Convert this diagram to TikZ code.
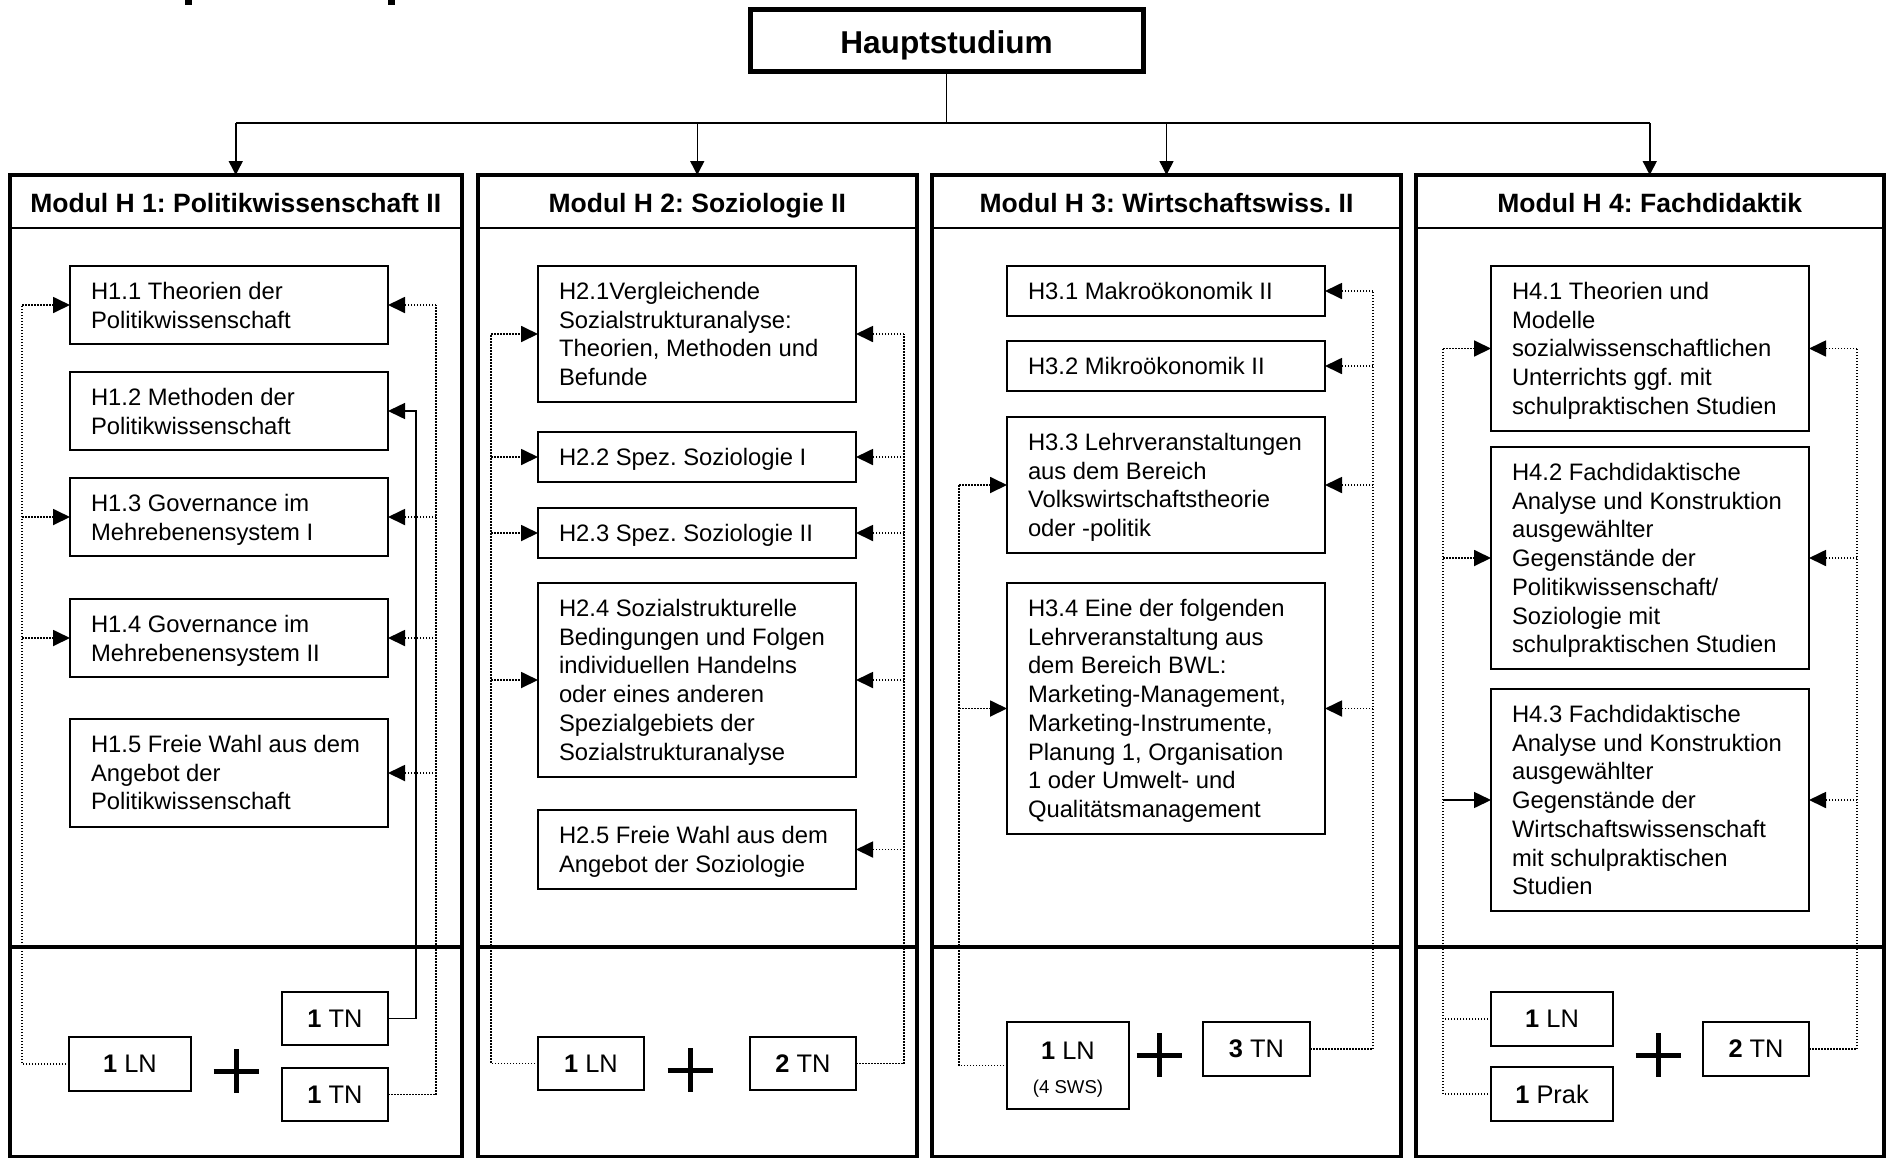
\documentclass[tikz,border=0pt]{standalone}
\usepackage{fontspec}
\setmainfont{Liberation Sans}
\usetikzlibrary{arrows.meta,calc}
\frenchspacing
\newcommand\txtlines[1]{\begin{tabular}[t]{@{}l@{}}#1\end{tabular}}
\tikzset{
  ibox/.style={draw, line width=1pt, rectangle, inner sep=0pt, outer sep=0pt},
  itext/.style={inner sep=0pt, outer sep=0pt, font=\fontsize{11.9}{14.35}\selectfont},
  nbox/.style={draw, line width=1pt, inner sep=0pt, outer sep=0pt, font=\fontsize{12.7}{15}\selectfont},
  nfont/.style={inner sep=0pt, outer sep=0pt, font=\fontsize{12.7}{15}\selectfont},
  smallfont/.style={inner sep=0pt, outer sep=0pt, font=\fontsize{9.3}{11}\selectfont},
  modbox/.style={draw, line width=2pt, inner sep=0pt, outer sep=0pt},
  modtitle/.style={font=\bfseries\fontsize{13.25}{16}\selectfont, inner sep=0pt, outer sep=0pt},
  hbox/.style={draw, line width=2.5pt, inner sep=0pt, outer sep=0pt},
  htext/.style={font=\bfseries\fontsize{15.8}{19}\selectfont, inner sep=0pt, outer sep=0pt},
  dotline/.style={line width=0.9pt, dash pattern=on 0.75pt off 0.75pt},
  solline/.style={line width=0.75pt},
  tip/.style={-{Triangle[length=8.5pt,width=8pt]}},
  toptip/.style={-{Triangle[length=7pt,width=7pt]}},
  plusmark/.style={line width=2.5pt},
}
\newcommand\ibx[6]{%
  \pgfmathsetmacro\bxw{(#4-#2)*0.5}%
  \pgfmathsetmacro\bxh{(#5-#3)*0.5}%
  \node[ibox, minimum width=\bxw pt, minimum height=\bxh pt, anchor=north west] (#1) at (#2,#3) {};
  \node[itext, anchor=base west] (#1t) at ({#2+21},{#3+33.5}) {\txtlines{#6}};}
\newcommand\nbx[6]{%
  \pgfmathsetmacro\bxw{(#4-#2)*0.5}%
  \pgfmathsetmacro\bxh{(#5-#3)*0.5}%
  \node[nbox, minimum width=\bxw pt, minimum height=\bxh pt] (#1) at ({(#2+#4)/2},{(#3+#5)/2}) {#6};}
\newcommand\modul[4]{%
  \pgfmathsetmacro\bxw{(#3-#2)*0.5}%
  \node[modbox, minimum width=\bxw pt, minimum height=491pt, anchor=north west] (#1) at (#2,175) {};
  \draw[line width=1.25pt] (#2,228) -- (#3,228);
  \draw[line width=2pt] (#2,946.5) -- (#3,946.5);
  \node[modtitle, anchor=base] (#1t) at ({(#2+#3)/2},212) {#4};}
\newcommand\plusat[2]{%
  \draw[plusmark] ({#1-22.5},#2) -- ({#1+22.5},#2) (#1,{#2-22}) -- (#1,{#2+22});}
\begin{document}
\frenchspacing
\begin{tikzpicture}[x=0.5pt,y=-0.5pt]
\useasboundingbox (0,0) rectangle (1889,1157);
\fill[white] (0,0) rectangle (1889,1157);
% cut-off marks at top
\fill[black] (185,0) rectangle (192,4.5);
\fill[black] (388,0) rectangle (395,4.5);

% top box
\node[hbox, minimum width=196.5pt, minimum height=31pt] (haupt) at (946.5,40) {};
\node[htext, anchor=base] (hauptt) at (946.5,53) {Hauptstudium};

% modules
\modul{m1}{9.5}{462}{Modul H 1: Politikwissenschaft II}
\modul{m2}{477.5}{917}{Modul H 2: Soziologie II}
\modul{m3}{932}{1401}{Modul H 3: Wirtschaftswiss. II}
\modul{m4}{1415.5}{1884}{Modul H 4: Fachdidaktik}

\coordinate (bus) at (946.5,123);
\draw[solline] (haupt.south) -- (bus);
\draw[solline] (m1.north |- bus) -- (m4.north |- bus);
\foreach \m in {m1,m2,m3,m4} \draw[solline, toptip] (\m.north |- bus) -- (\m.north);

% column 1
\ibx{h11}{70}{266}{388}{344}{H1.1 Theorien der\\Politikwissenschaft}
\ibx{h12}{70}{372}{388}{450}{H1.2 Methoden der\\Politikwissenschaft}
\ibx{h13}{70}{478}{388}{556}{H1.3 Governance im\\Mehrebenensystem I}
\ibx{h14}{70}{599}{388}{677}{H1.4 Governance im\\Mehrebenensystem II}
\ibx{h15}{70}{719}{388}{827}{H1.5 Freie Wahl aus dem\\Angebot der\\Politikwissenschaft}
\nbx{ln1}{69}{1037}{191}{1091}{\textbf{1} LN}
\nbx{tn1a}{282}{992}{388}{1045}{\textbf{1} TN}
\nbx{tn1b}{282}{1068}{388}{1121}{\textbf{1} TN}
\plusat{236}{1071}

% column 2
\ibx{h21}{538}{266}{856}{402}{H2.1Vergleichende\\Sozialstrukturanalyse:\\Theorien, Methoden und\\Befunde}
\ibx{h22}{538}{432}{856}{482}{H2.2 Spez. Soziologie I}
\ibx{h23}{538}{508}{856}{558}{H2.3 Spez. Soziologie II}
\ibx{h24}{538}{583}{856}{777}{H2.4 Sozialstrukturelle\\Bedingungen und Folgen\\individuellen Handelns\\oder eines anderen\\Spezialgebiets der\\Sozialstrukturanalyse}
\ibx{h25}{538}{810}{856}{889}{H2.5 Freie Wahl aus dem\\Angebot der Soziologie}
\nbx{ln2}{538}{1037}{644}{1090}{\textbf{1} LN}
\nbx{tn2}{750}{1037}{856}{1090}{\textbf{2} TN}
\plusat{690}{1070}

% column 3
\ibx{h31}{1007}{266}{1325}{316}{H3.1 Makroökonomik II}
\ibx{h32}{1007}{341}{1325}{391}{H3.2 Mikroökonomik II}
\ibx{h33}{1007}{417}{1325}{553}{H3.3 Lehrveranstaltungen\\aus dem Bereich\\Volkswirtschaftstheorie\\oder -politik}
\ibx{h34}{1007}{583}{1325}{834}{H3.4 Eine der folgenden\\Lehrveranstaltung aus\\dem Bereich BWL:\\Marketing-Management,\\Marketing-Instrumente,\\Planung 1, Organisation\\1 oder Umwelt- und\\Qualitätsmanagement}
\nbx{ln3}{1007}{1022}{1129}{1109}{}
\node[nfont, anchor=base] (ln3a) at (1068,1059) {\textbf{1} LN};
\node[smallfont, anchor=base] (ln3b) at (1068,1093) {(4 SWS)};
\nbx{tn3}{1203}{1022}{1310}{1076}{\textbf{3} TN}
\plusat{1159}{1055}

% column 4
\ibx{h41}{1491}{266}{1809}{431}{H4.1 Theorien und\\Modelle\\sozialwissenschaftlichen\\Unterrichts ggf. mit\\schulpraktischen Studien}
\ibx{h42}{1491}{447}{1809}{669}{H4.2 Fachdidaktische\\Analyse und Konstruktion\\ausgewählter\\Gegenstände der\\Politikwissenschaft/\\Soziologie mit\\schulpraktischen Studien}
\ibx{h43}{1491}{689}{1809}{911}{H4.3 Fachdidaktische\\Analyse und Konstruktion\\ausgewählter\\Gegenstände der\\Wirtschaftswissenschaft\\mit schulpraktischen\\Studien}
\nbx{ln4}{1491}{992}{1613}{1046}{\textbf{1} LN}
\nbx{prak}{1491}{1067}{1613}{1121}{\textbf{1} Prak}
\nbx{tn4}{1703}{1022}{1809}{1076}{\textbf{2} TN}
\plusat{1658}{1055}

% connectors column 1
\coordinate (c1l) at (22,305);
\draw[dotline] (ln1.west) -| (c1l);
\foreach \b in {h11,h13,h14} \draw[dotline,tip] (\b.west -| c1l) -- (\b.west);
\coordinate (c1r) at (436,305);
\draw[dotline] (tn1b.east) -| (c1r);
\foreach \b in {h11,h13,h14,h15} \draw[dotline,tip] (\b.east -| c1r) -- (\b.east);
\coordinate (c1s) at (416,411);
\draw[solline,tip] (tn1a.east) -| (c1s) -- (h12.east);

% connectors column 2
\coordinate (c2l) at (491,334);
\draw[dotline] (ln2.west) -| (c2l);
\foreach \b in {h21,h22,h23,h24} \draw[dotline,tip] (\b.west -| c2l) -- (\b.west);
\coordinate (c2r) at (904,334);
\draw[dotline] (tn2.east) -| (c2r);
\foreach \b in {h21,h22,h23,h24,h25} \draw[dotline,tip] (\b.east -| c2r) -- (\b.east);

% connectors column 3
\coordinate (c3l) at (959,485);
\draw[dotline] (ln3.west) -| (c3l);
\foreach \b in {h33,h34} \draw[dotline,tip] (\b.west -| c3l) -- (\b.west);
\coordinate (c3r) at (1373,291);
\draw[dotline] (tn3.east) -| (c3r);
\foreach \b in {h31,h32,h33,h34} \draw[dotline,tip] (\b.east -| c3r) -- (\b.east);

% connectors column 4
\coordinate (c4l) at (1443,348.5);
\draw[dotline] (prak.west) -| (c4l);
\draw[dotline] (ln4.west) -- (ln4.west -| c4l);
\foreach \b in {h41,h42} \draw[dotline,tip] (\b.west -| c4l) -- (\b.west);
\draw[solline,tip] (h43.west -| c4l) -- (h43.west);
\coordinate (c4r) at (1857,348.5);
\draw[dotline] (tn4.east) -| (c4r);
\foreach \b in {h41,h42,h43} \draw[dotline,tip] (\b.east -| c4r) -- (\b.east);
\end{tikzpicture}
\end{document}
